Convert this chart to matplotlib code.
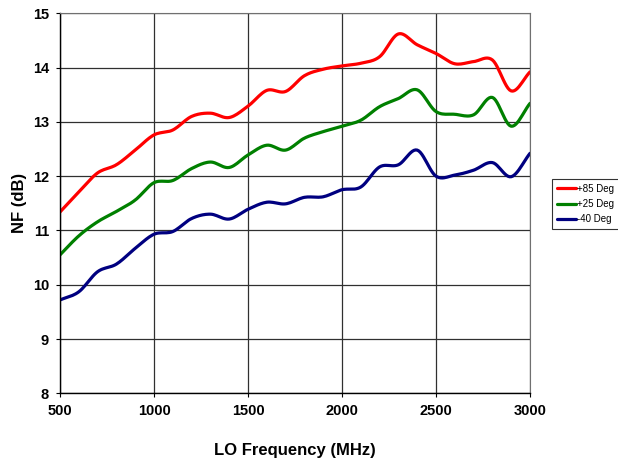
import numpy as np
import matplotlib
matplotlib.use("Agg")
import matplotlib.pyplot as plt

plt.rcParams["font.family"] = ["Liberation Sans", "DejaVu Sans"]

freq = [500, 600, 700, 800, 900, 1000, 1100, 1200, 1300, 1400, 1500, 1600, 1700,
        1800, 1900, 2000, 2100, 2200, 2300, 2400, 2500, 2600, 2700, 2800, 2900, 3000]
nf_85 = [11.34, 11.71, 12.06, 12.21, 12.48, 12.76, 12.85, 13.10, 13.16, 13.08, 13.29, 13.58, 13.56,
         13.85, 13.97, 14.03, 14.08, 14.20, 14.62, 14.42, 14.26, 14.07, 14.11, 14.14, 13.57, 13.92]
nf_25 = [10.55, 10.90, 11.16, 11.35, 11.56, 11.88, 11.92, 12.14, 12.26, 12.16, 12.39, 12.57, 12.48,
         12.70, 12.82, 12.92, 13.03, 13.28, 13.43, 13.59, 13.19, 13.14, 13.13, 13.45, 12.92, 13.34]
nf_m40 = [9.72, 9.87, 10.24, 10.38, 10.67, 10.93, 10.98, 11.22, 11.30, 11.21, 11.39, 11.52, 11.49,
          11.61, 11.62, 11.75, 11.80, 12.17, 12.21, 12.48, 12.00, 12.02, 12.11, 12.25, 11.99, 12.42]
labels = ["+85 Deg", "+25 Deg", "-40 Deg"]
colors = ["#FF0000", "#008000", "#000080"]


def smooth(x, y, steps=12):
    # Catmull-Rom like Excel's "smoothed line"
    x = np.asarray(x, float); y = np.asarray(y, float)
    px = np.concatenate([[2 * x[0] - x[1]], x, [2 * x[-1] - x[-2]]])
    py = np.concatenate([[2 * y[0] - y[1]], y, [2 * y[-1] - y[-2]]])
    t = np.linspace(0, 1, steps, endpoint=False)
    xs, ys = [], []
    for i in range(1, len(px) - 2):
        for p, out in ((px, xs), (py, ys)):
            p0, p1, p2, p3 = p[i - 1], p[i], p[i + 1], p[i + 2]
            out.extend(0.5 * (2 * p1 + (-p0 + p2) * t + (2 * p0 - 5 * p1 + 4 * p2 - p3) * t ** 2
                              + (-p0 + 3 * p1 - 3 * p2 + p3) * t ** 3))
    xs.append(x[-1]); ys.append(y[-1])
    return xs, ys


fig = plt.figure(figsize=(6.18, 4.63), dpi=100)
ax = fig.add_axes([0.0971, 0.1505, 0.7605, 0.8208])

for ys, lab, c in zip([nf_85, nf_25, nf_m40], labels, colors):
    sx, sy = smooth(freq, ys)
    ax.plot(sx, sy, color=c, lw=2.3, label=lab, solid_capstyle="round")

ax.set_xlim(500, 3000)
ax.set_ylim(8, 15)
ax.set_xticks(range(500, 3001, 500))
ax.set_yticks(range(8, 16))
ax.grid(True, color="#303030", lw=0.9)
ax.set_axisbelow(True)
for s in ["top", "right"]:
    ax.spines[s].set_color("#707070")
for s in ["left", "bottom"]:
    ax.spines[s].set_color("#000000")
    ax.spines[s].set_linewidth(1.0)
ax.tick_params(direction="out", length=3, width=0.8, pad=5)
for lbl in ax.get_xticklabels() + ax.get_yticklabels():
    lbl.set_fontweight("bold"); lbl.set_fontsize(10.5)
ax.set_xlabel("LO Frequency (MHz)", fontsize=12, fontweight="bold", labelpad=18)
ax.set_ylabel("NF (dB)", fontsize=12, fontweight="bold", labelpad=4)

leg = fig.legend(loc="upper left", bbox_to_anchor=(0.894, 0.613), fontsize=7,
                 frameon=True, fancybox=False, edgecolor="black", handlelength=2.0,
                 handletextpad=0.1, borderpad=0.45, labelspacing=0.55, borderaxespad=0)
leg.get_frame().set_linewidth(0.8)

fig.savefig("out.png", dpi=100)
